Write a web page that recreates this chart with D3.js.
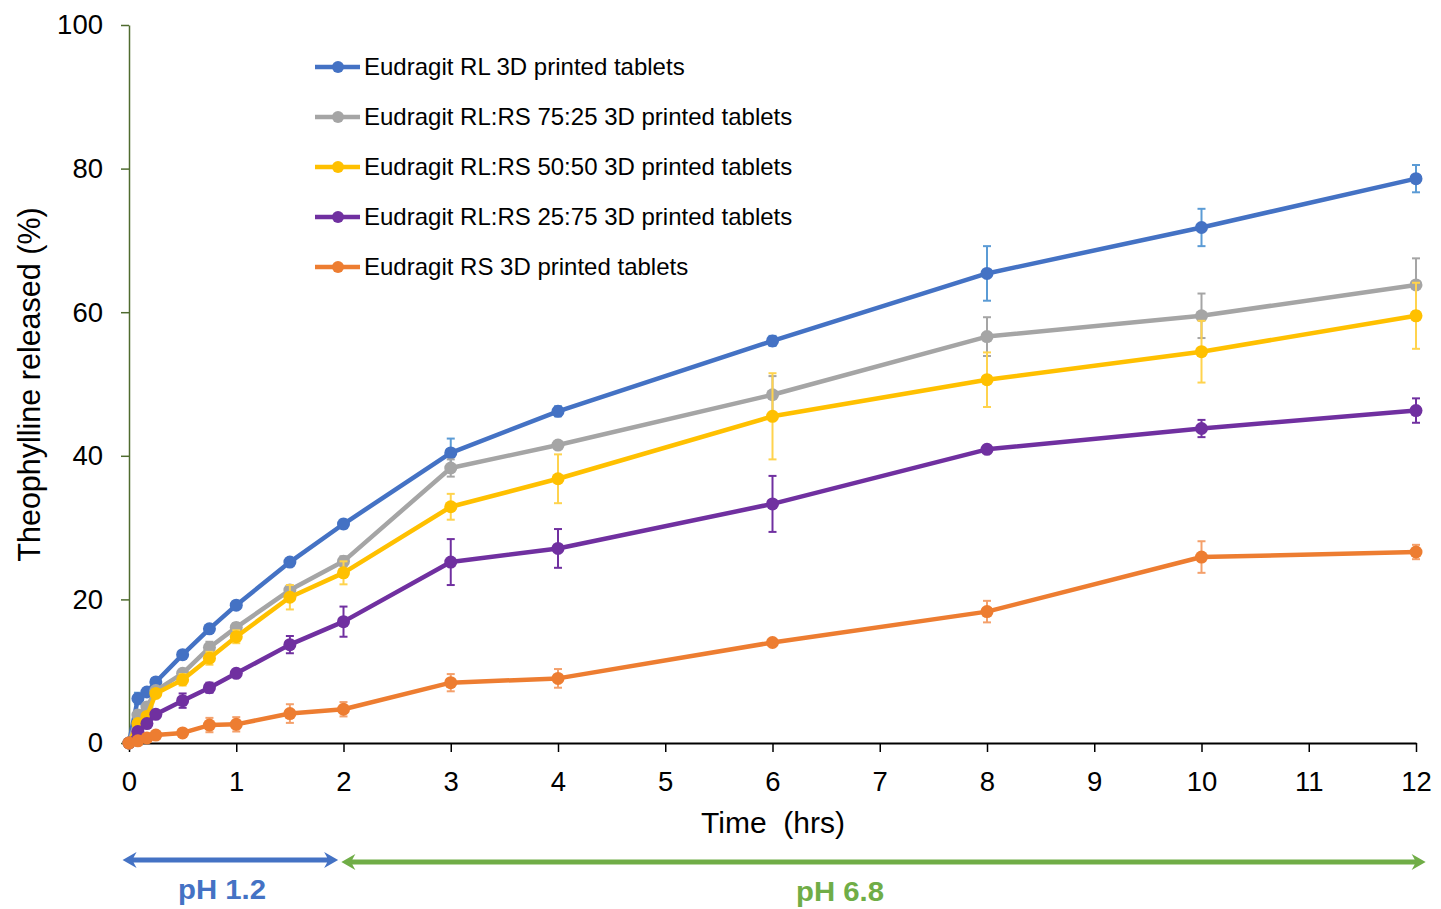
<!DOCTYPE html>
<html>
<head>
<meta charset="utf-8">
<script src="https://cdn.jsdelivr.net/npm/d3@7"></script>
<style>
  body { margin: 0; background: #fff; }
  text { font-family: "Liberation Sans", Arial, sans-serif; }
</style>
</head>
<body>
<div id="chart"></div>
<script>
var width = 1441,
    height = 909;

var margin = {left: 129, right: 25, top: 25, bottom: 166};

var times = [0, 0.083, 0.167, 0.25, 0.5, 0.75, 1, 1.5, 2, 3, 4, 6, 8, 10, 12];

var seriesNames = [
  "Eudragit RL 3D printed tablets",
  "Eudragit RL:RS 75:25 3D printed tablets",
  "Eudragit RL:RS 50:50 3D printed tablets",
  "Eudragit RL:RS 25:75 3D printed tablets",
  "Eudragit RS 3D printed tablets"
];

var rlValues   = [0, 6.2, 7.1, 8.5, 12.3, 15.9, 19.2, 25.2, 30.5, 40.4, 46.2, 56.0, 65.4, 71.8, 78.6];
var rl75Values = [0, 3.9, 5.0, 7.3, 9.7, 13.3, 16.1, 21.3, 25.3, 38.3, 41.5, 48.5, 56.6, 59.5, 63.8];
var rl50Values = [0, 2.7, 3.7, 6.9, 8.8, 11.8, 14.8, 20.3, 23.7, 32.9, 36.8, 45.5, 50.6, 54.5, 59.5];
var rl25Values = [0, 1.6, 2.7, 4.0, 5.9, 7.7, 9.7, 13.7, 16.9, 25.2, 27.1, 33.3, 40.9, 43.8, 46.3];
var rsValues   = [0, 0.3, 0.7, 1.1, 1.4, 2.5, 2.6, 4.1, 4.7, 8.4, 9.0, 14.0, 18.3, 25.9, 26.6];

var rlErr   = [0, 0.8, 0.5, 0.5, 0.5, 0.5, 0.5, 0.5, 0.6, 2.0, 0.7, 0.7, 3.8, 2.6, 1.9];
var rl75Err = [0, 0.6, 0.5, 0.5, 0.5, 0.8, 0.6, 0.5, 0.7, 1.2, 0.5, 2.6, 2.7, 3.1, 3.7];
var rl50Err = [0, 0.5, 0.5, 0.5, 0.8, 0.9, 0.9, 1.7, 1.6, 1.8, 3.4, 6.0, 3.8, 4.3, 4.6];
var rl25Err = [0, 0.5, 0.4, 0.5, 1.0, 0.7, 0.5, 1.2, 2.1, 3.2, 2.7, 3.9, 0.5, 1.2, 1.7];
var rsErr   = [0, 0.2, 0.3, 0.3, 0.3, 1.0, 1.0, 1.3, 1.0, 1.2, 1.3, 0.3, 1.5, 2.2, 1.0];

var xTicks = d3.range(0, 13);
var yTicks = [0, 20, 40, 60, 80, 100];

var lineColors = ["#4472c4", "#a5a5a5", "#ffc000", "#7030a0", "#ed7d31"];
var errColors  = ["#5b9bd5", "#a5a5a5", "#ffd34d", "#7030a0", "#f4a06b"];

var series = [rlValues, rl75Values, rl50Values, rl25Values, rsValues].map(function(vals, i) {
  var errs = [rlErr, rl75Err, rl50Err, rl25Err, rsErr][i];
  return {
    name: seriesNames[i],
    color: lineColors[i],
    errColor: errColors[i],
    points: times.map(function(t, j) { return {t: t, v: vals[j], e: errs[j]}; })
  };
});

var x = d3.scaleLinear().domain([0, 12]).range([margin.left, width - margin.right]);
var y = d3.scaleLinear().domain([0, 100]).range([height - margin.bottom, margin.top]);

var svg = d3.select("#chart").append("svg")
    .attr("width", width)
    .attr("height", height);

// axes
var xAxis = svg.append("g")
    .attr("transform", "translate(0," + y(0) + ")")
    .call(d3.axisBottom(x).tickValues(xTicks).tickSize(9).tickSizeOuter(0).tickPadding(19));
xAxis.select(".domain").attr("stroke", "#000").attr("stroke-width", 2);
xAxis.selectAll(".tick line").attr("stroke", "#000").attr("stroke-width", 1.5);
xAxis.selectAll(".tick text").attr("font-size", 27.5).attr("fill", "#000")
    .attr("font-family", "Liberation Sans, Arial, sans-serif");

var yAxis = svg.append("g")
    .attr("transform", "translate(" + x(0) + ",0)")
    .call(d3.axisLeft(y).tickValues(yTicks).tickSize(8).tickSizeOuter(0).tickPadding(18));
yAxis.select(".domain").attr("stroke", "#4f6b2f").attr("stroke-width", 1.5);
yAxis.selectAll(".tick line").attr("stroke", "#4f6b2f").attr("stroke-width", 1.5);
yAxis.selectAll(".tick text").attr("font-size", 27.5).attr("fill", "#000")
    .attr("font-family", "Liberation Sans, Arial, sans-serif");

svg.append("text")
    .attr("transform", "translate(40,384.5) rotate(-90)")
    .attr("text-anchor", "middle")
    .attr("font-size", 30.5)
    .text("Theophylline released (%)");

svg.append("text")
    .attr("x", 773)
    .attr("y", 833)
    .attr("text-anchor", "middle")
    .attr("font-size", 30)
    .attr("xml:space", "preserve")
    .text("Time  (hrs)");

// series
var line = d3.line()
    .x(function(d) { return x(d.t); })
    .y(function(d) { return y(d.v); });

var g = svg.selectAll(".series")
    .data(series)
  .enter().append("g")
    .attr("class", "series");

g.each(function(s) {
  var sg = d3.select(this);
  var eb = sg.selectAll(".err")
      .data(s.points.filter(function(d) { return d.e > 0; }))
    .enter().append("g")
      .attr("class", "err")
      .attr("stroke", s.errColor)
      .attr("stroke-width", 2);
  eb.append("line")
      .attr("x1", function(d) { return x(d.t); })
      .attr("x2", function(d) { return x(d.t); })
      .attr("y1", function(d) { return y(d.v + d.e); })
      .attr("y2", function(d) { return y(d.v - d.e); });
  eb.append("line")
      .attr("x1", function(d) { return x(d.t) - 4; })
      .attr("x2", function(d) { return x(d.t) + 4; })
      .attr("y1", function(d) { return y(d.v + d.e); })
      .attr("y2", function(d) { return y(d.v + d.e); });
  eb.append("line")
      .attr("x1", function(d) { return x(d.t) - 4; })
      .attr("x2", function(d) { return x(d.t) + 4; })
      .attr("y1", function(d) { return y(d.v - d.e); })
      .attr("y2", function(d) { return y(d.v - d.e); });

  sg.append("path")
      .datum(s.points)
      .attr("d", line)
      .attr("fill", "none")
      .attr("stroke", s.color)
      .attr("stroke-width", 4.5)
      .attr("stroke-linejoin", "round");

  sg.selectAll("circle")
      .data(s.points)
    .enter().append("circle")
      .attr("cx", function(d) { return x(d.t); })
      .attr("cy", function(d) { return y(d.v); })
      .attr("r", 6.5)
      .attr("fill", s.color);
});

// legend
var legend = svg.selectAll(".legend")
    .data(series)
  .enter().append("g")
    .attr("class", "legend")
    .attr("transform", function(d, i) { return "translate(315," + (67 + i * 50) + ")"; });

legend.append("line")
    .attr("x1", 0).attr("x2", 45)
    .attr("stroke", function(d) { return d.color; })
    .attr("stroke-width", 4.5);
legend.append("circle")
    .attr("cx", 23).attr("r", 6)
    .attr("fill", function(d) { return d.color; });
legend.append("text")
    .attr("x", 49)
    .attr("dy", "0.35em")
    .attr("font-size", 24)
    .text(function(d) { return d.name; });

// pH arrows
function arrow(x1, x2, yy, color) {
  var hw = 14, hh = 8, th = 2.5;
  var pts = [
    [x1, yy], [x1 + hw, yy - hh], [x1 + hw - 3, yy - th], [x2 - hw + 3, yy - th],
    [x2 - hw, yy - hh], [x2, yy], [x2 - hw, yy + hh], [x2 - hw + 3, yy + th],
    [x1 + hw - 3, yy + th], [x1 + hw, yy + hh]
  ];
  svg.append("path")
      .attr("d", "M" + pts.join("L") + "Z")
      .attr("fill", color);
}
arrow(x(-0.06), x(1.95), 860, "#4472c4");
arrow(x(1.98), x(12.09), 862, "#70ad47");

svg.append("text")
    .attr("x", 222).attr("y", 899)
    .attr("text-anchor", "middle")
    .attr("font-size", 27).attr("font-weight", "bold")
    .attr("textLength", 88).attr("lengthAdjust", "spacingAndGlyphs")
    .attr("fill", "#4472c4")
    .text("pH 1.2");
svg.append("text")
    .attr("x", 840).attr("y", 901)
    .attr("text-anchor", "middle")
    .attr("font-size", 27).attr("font-weight", "bold")
    .attr("textLength", 88).attr("lengthAdjust", "spacingAndGlyphs")
    .attr("fill", "#70ad47")
    .text("pH 6.8");
</script>
</body>
</html>
